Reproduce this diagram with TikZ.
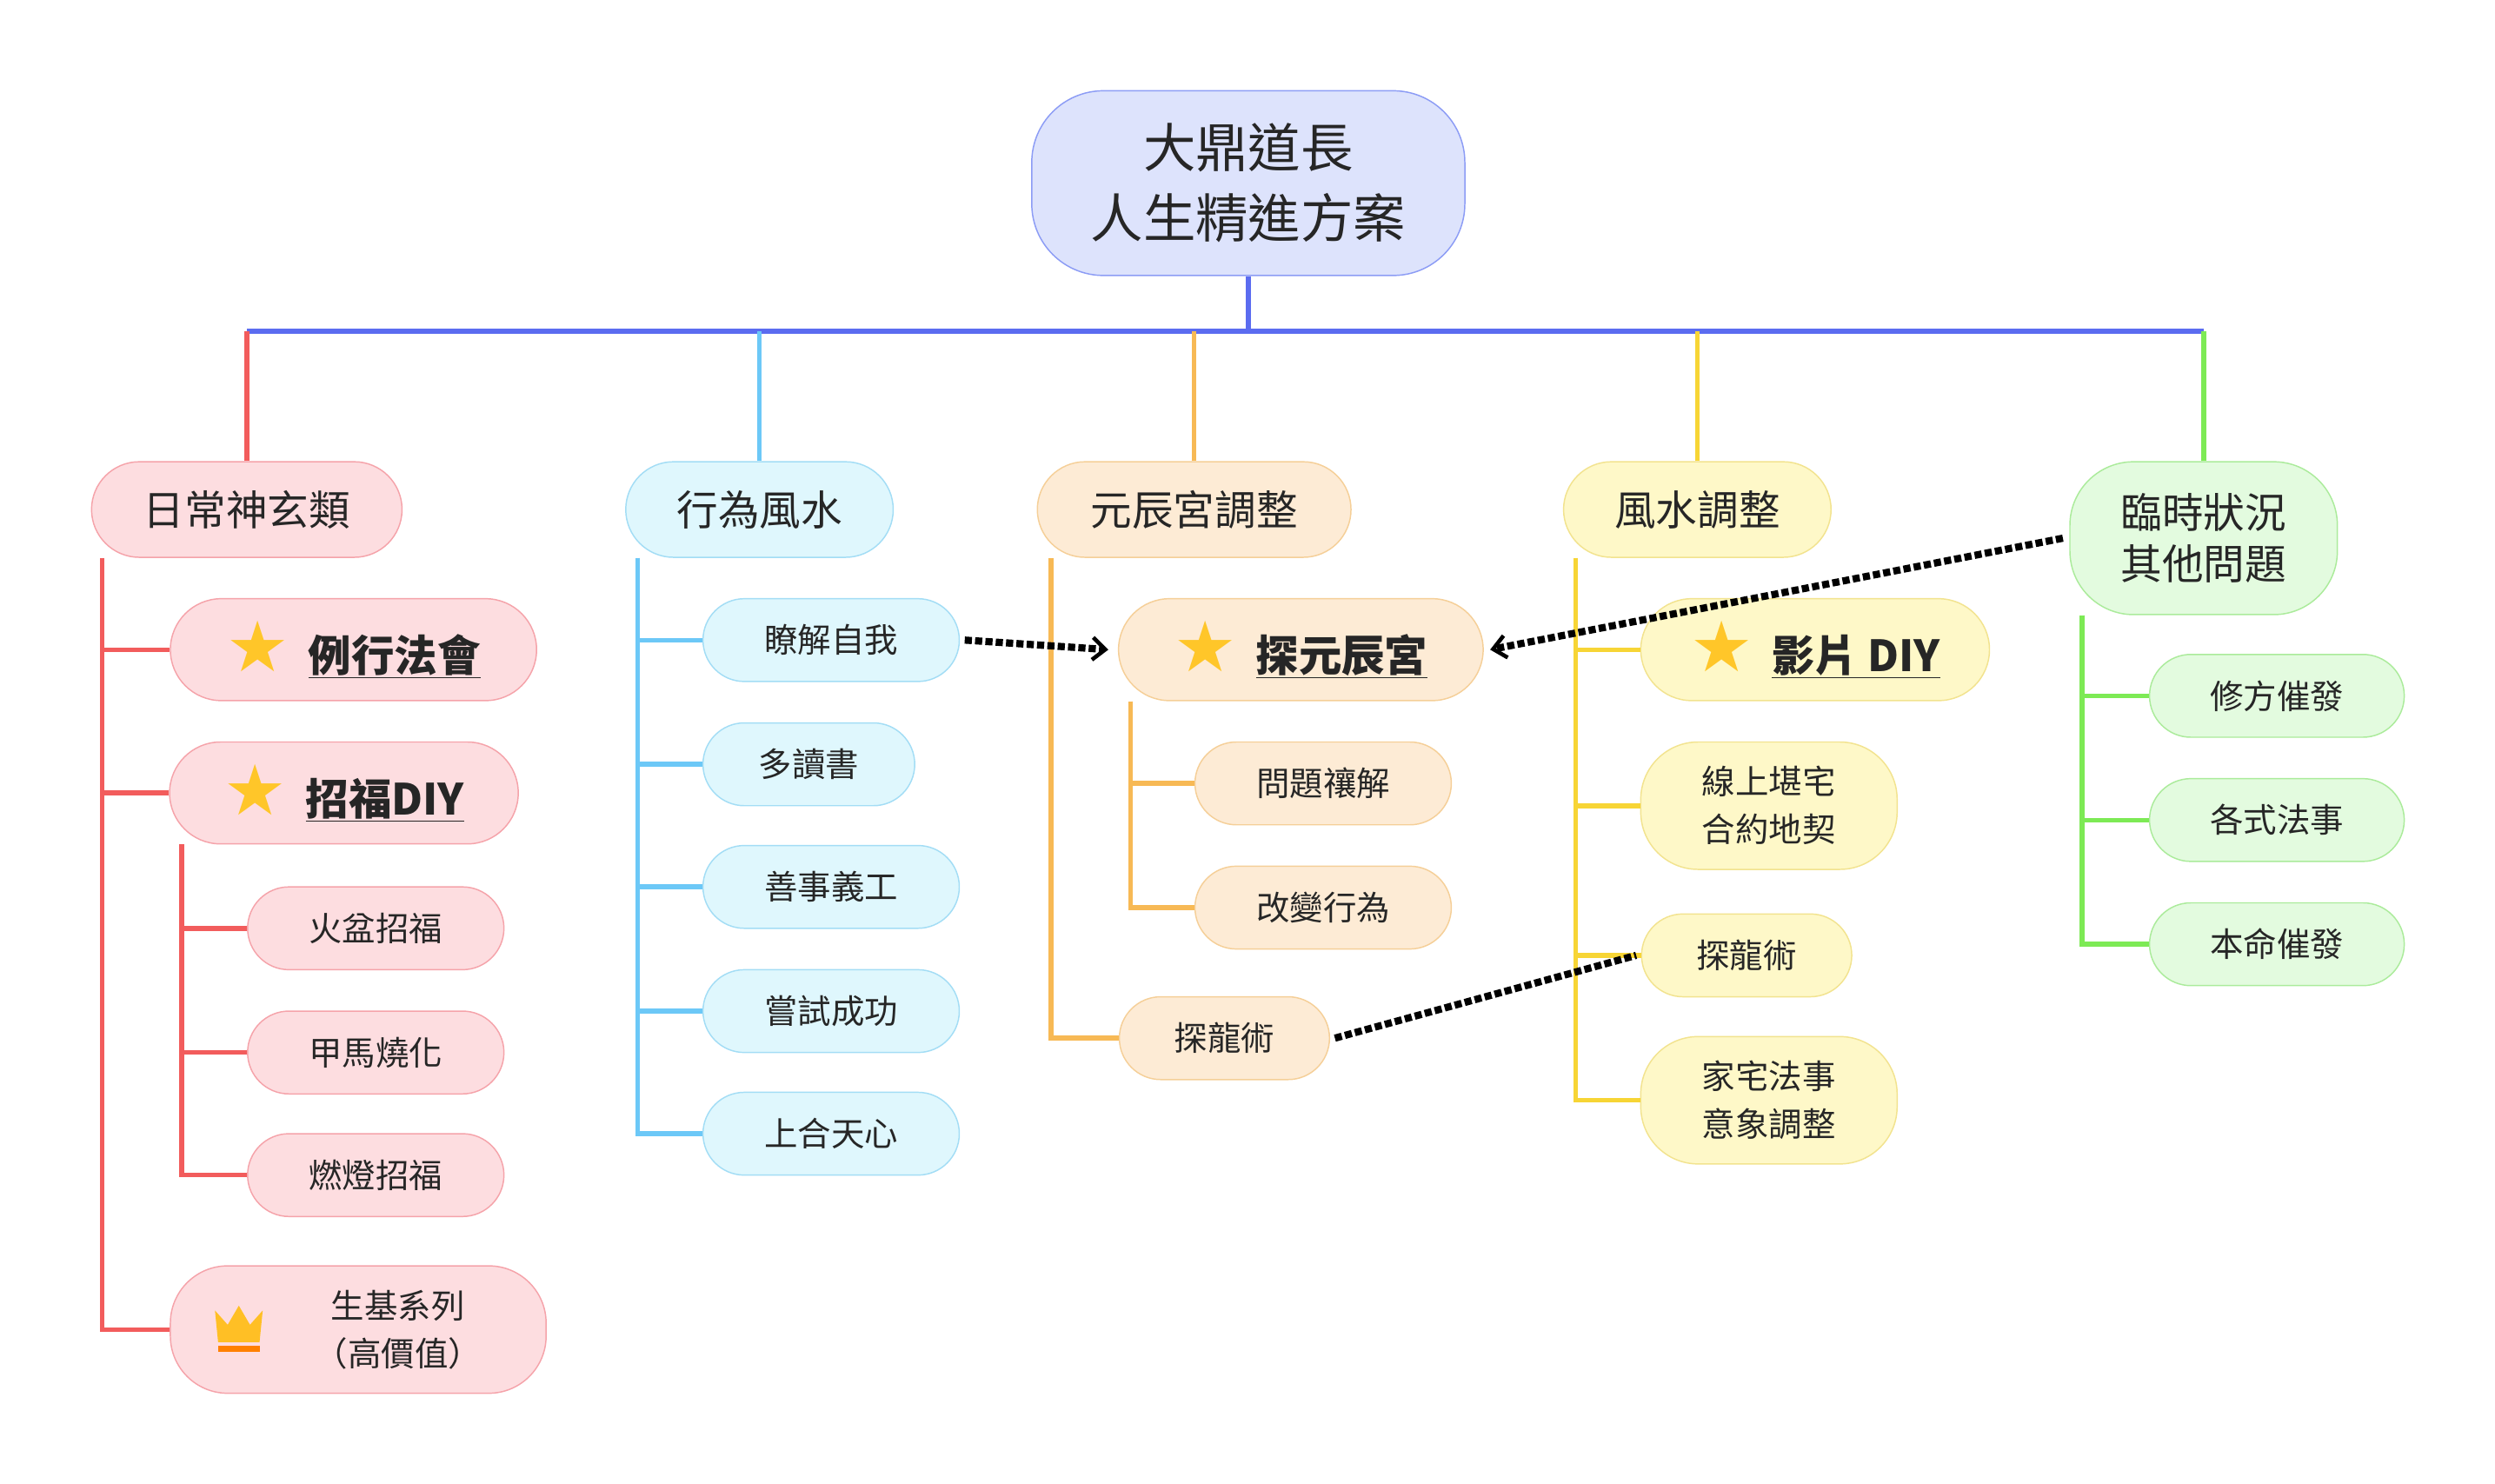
\documentclass[tikz,border=0pt]{standalone}
\usepackage{fontspec}
\setmainfont{Noto Sans CJK TC}
\newfontfamily\symfont{DejaVu Sans}
\usetikzlibrary{positioning, arrows.meta}
\definecolor{rootfill}{HTML}{DDE3FC}\definecolor{rootline}{HTML}{8C9CF5}\definecolor{rootwire}{HTML}{5B6CF0}
\definecolor{redfill}{HTML}{FDDDE0}\definecolor{redline}{HTML}{F5A3AA}\definecolor{redwire}{HTML}{F25C5C}
\definecolor{bluefill}{HTML}{DFF7FD}\definecolor{blueline}{HTML}{A3DDF5}\definecolor{bluewire}{HTML}{6CC8F7}
\definecolor{orafill}{HTML}{FDEBD5}\definecolor{oraline}{HTML}{F5CF98}\definecolor{orawire}{HTML}{F7B955}
\definecolor{yelfill}{HTML}{FEF8C8}\definecolor{yelline}{HTML}{F2E38F}\definecolor{yelwire}{HTML}{F7D535}
\definecolor{grnfill}{HTML}{E3FBDF}\definecolor{grnline}{HTML}{ABEB9B}\definecolor{grnwire}{HTML}{7DEA55}
\definecolor{stargold}{HTML}{FFC629}
\newcommand{\starmark}{{\symfont\color{stargold}\fontsize{44}{44}\selectfont★}\hspace{12pt}}
\begin{document}
\begin{tikzpicture}[x=1pt, y=-1pt,
    pill/.style={draw, line width=0.8pt, rounded corners=26pt, align=center, inner sep=0pt, minimum height=52pt, text=black!85},
    topic/.style={pill, minimum height=60pt, rounded corners=30pt, font=\fontsize{26}{32}\selectfont},
    leaf/.style={pill, font=\fontsize{21}{30}\selectfont},
    star/.style={pill, minimum height=64pt, rounded corners=32pt, font=\bfseries\fontsize{27}{32}\selectfont},
    red/.style={fill=redfill, draw=redline},
    blue/.style={fill=bluefill, draw=blueline},
    ora/.style={fill=orafill, draw=oraline},
    yel/.style={fill=yelfill, draw=yelline},
    grn/.style={fill=grnfill, draw=grnline},
    wire/.style={line width=3pt},
    link/.style={line width=4.5pt, dotted, black}
]
    \useasboundingbox (0,0) rectangle (1567,932);

    % === Root ===
    \node[pill, fill=rootfill, draw=rootline, minimum width=272pt, minimum height=116pt, rounded corners=45pt,
          font=\fontsize{33}{44}\selectfont] (root) at (784,115) {大鼎道長\\人生精進方案};

    % === Topics ===
    \node[topic, red, minimum width=195pt] (daily) at (155,320) {日常神玄類};
    \node[topic, blue, minimum width=168pt] (acts) at (477,320) {行為風水};
    \node[topic, ora, minimum width=197pt] (palace) at (750,320) {元辰宮調整};
    \node[topic, yel, minimum width=168pt] (fengshui) at (1066,320) {風水調整};
    \node[topic, grn, minimum width=168pt, minimum height=96pt, rounded corners=40pt] (other) at (1384,338) {臨時狀況\\其他問題};

    % Bus
    \coordinate (bus) at (784,208);
    \draw[wire, rootwire] (root.south) -- (bus);
    \draw[wire, rootwire] (155,208) -- (1384,208);
    \draw[wire, redwire] (daily.north) -- (daily.north |- bus);
    \draw[wire, bluewire] (acts.north) -- (acts.north |- bus);
    \draw[wire, orawire] (palace.north) -- (palace.north |- bus);
    \draw[wire, yelwire] (fengshui.north) -- (fengshui.north |- bus);
    \draw[wire, grnwire] (other.north) -- (other.north |- bus);

    % === Daily ===
    \node[star, red, minimum width=230pt] (rite) at (222,408) {\starmark\underline{例行法會}};
    \node[star, red, minimum width=219pt] (luck) at (216,498) {\starmark\underline{招福DIY}};
    \node[leaf, red, minimum width=161pt] (fire) at (236,583) {火盆招福};
    \node[leaf, red, minimum width=161pt] (horse) at (236,661) {甲馬燒化};
    \node[leaf, red, minimum width=161pt] (lamp) at (236,738) {燃燈招福};
    \node[pill, red, minimum width=236pt, minimum height=80pt, rounded corners=36pt,
          font=\fontsize{21}{30}\selectfont] (base) at (225,835) {\hspace{50pt}生基系列\\\hspace{50pt}（高價值）};
    \fill[stargold!90!orange] (137,843) -- (135,823) -- (143,832) -- (150,820) -- (157,832) -- (165,823) -- (163,843) -- cycle;
    \fill[orange] (137,845) rectangle (163,849);
    \draw[wire, redwire] ([xshift=7pt]daily.south west) |- (base.west);
    \draw[wire, redwire] ([xshift=7pt]daily.south west) |- (rite.west);
    \draw[wire, redwire] ([xshift=7pt]daily.south west) |- (luck.west);
    \foreach \n in {fire, horse, lamp}
        \draw[wire, redwire] ([xshift=8pt]luck.south west) |- (\n.west);

    % === Acts ===
    \node[leaf, blue, minimum width=161pt] (self) at (522,402) {瞭解自我};
    \node[leaf, blue, minimum width=133pt] (read) at (508,480) {多讀書};
    \node[leaf, blue, minimum width=161pt] (good) at (522,557) {善事義工};
    \node[leaf, blue, minimum width=161pt] (try) at (522,635) {嘗試成功};
    \node[leaf, blue, minimum width=161pt] (heaven) at (522,712) {上合天心};
    \foreach \n in {self, read, good, try, heaven}
        \draw[wire, bluewire] ([xshift=8pt]acts.south west) |- (\n.west);

    % === Palace ===
    \node[star, ora, minimum width=229pt] (visit) at (817,408) {\starmark\underline{探元辰宮}};
    \node[leaf, ora, minimum width=161pt] (solve) at (831,492) {問題禳解};
    \node[leaf, ora, minimum width=161pt] (change) at (831,570) {改變行為};
    \node[leaf, ora, minimum width=132pt] (dragonA) at (769,652) {探龍術};
    \draw[wire, orawire] ([xshift=9pt]palace.south west) |- (dragonA.west);
    \foreach \n in {solve, change}
        \draw[wire, orawire] ([xshift=8pt]visit.south west) |- (\n.west);

    % === Fengshui ===
    \node[star, yel, minimum width=219pt] (video) at (1140,408) {\starmark\underline{影片 DIY}};
    \node[leaf, yel, minimum width=161pt, minimum height=80pt, rounded corners=36pt] (online) at (1111,506) {線上堪宅\\合約地契};
    \node[leaf, yel, minimum width=132pt] (dragonB) at (1097,600) {探龍術};
    \node[leaf, yel, minimum width=161pt, minimum height=80pt, rounded corners=36pt] (house) at (1111,691) {家宅法事\\意象調整};
    \foreach \n in {video, online, dragonB, house}
        \draw[wire, yelwire] ([xshift=8pt]fengshui.south west) |- (\n.west);

    % === Other ===
    \node[leaf, grn, minimum width=160pt] (fix) at (1430,437) {修方催發};
    \node[leaf, grn, minimum width=160pt] (rites) at (1430,515) {各式法事};
    \node[leaf, grn, minimum width=160pt] (fate) at (1430,593) {本命催發};
    \foreach \n in {fix, rites, fate}
        \draw[wire, grnwire] ([xshift=8pt]other.south west) |- (\n.west);

    % === Cross links ===
    \draw[link, -{Straight Barb[length=8pt, width=14pt, line width=2.5pt]}] ([xshift=3pt]self.east) -- ([xshift=-6pt]visit.west);
    \draw[link, -{Straight Barb[length=8pt, width=14pt, line width=2.5pt]}] ([xshift=-4pt]other.west) -- ([xshift=4pt]visit.east);
    \draw[link] ([xshift=3pt]dragonA.east) -- ([xshift=-3pt]dragonB.west);
\end{tikzpicture}
\end{document}
